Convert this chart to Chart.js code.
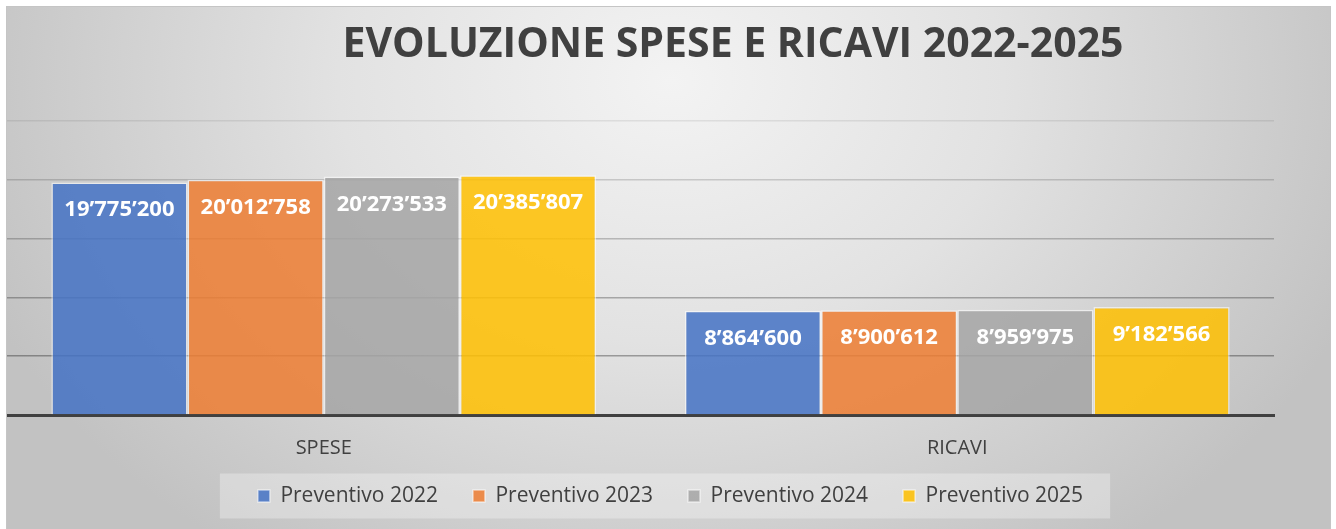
<!DOCTYPE html>
<html>
<head>
<meta charset="utf-8">
<script src="https://cdn.jsdelivr.net/npm/chart.js@4/dist/chart.umd.min.js"></script>
<style>
  html, body { margin: 0; padding: 0; background: #ffffff; overflow: hidden; }
  #box {
    position: absolute; left: 6px; top: 6px;
    width: 1323px; height: 530px;
    border: 1px solid #c5c5c5;
    background: radial-gradient(ellipse 740px 580px at 664px 74px, #f3f3f3 0%, #e2e2e2 45%, #c2c2c2 100%);
  }
  #box canvas { display: block; }
</style>
</head>
<body>
<div id="box"><canvas id="CHRT" width="1323" height="522"></canvas></div>
<script>
var titleText = "EVOLUZIONE SPESE E RICAVI 2022-2025";
var categories = ["SPESE", "RICAVI"];
var seriesNames = ["Preventivo 2022", "Preventivo 2023", "Preventivo 2024", "Preventivo 2025"];
var prev2022 = [19775200, 8864600];
var prev2023 = [20012758, 8900612];
var prev2024 = [20273533, 8959975];
var prev2025 = [20385807, 9182566];
var yTicks = [0, 5000000, 10000000, 15000000, 20000000, 25000000];

var colors = ["rgba(68,114,196,0.85)", "rgba(237,125,49,0.85)", "rgba(165,165,165,0.85)", "rgba(255,192,0,0.85)"];
var txtcol = "#404040";

function fmt(n) {
    return n.toString().replace(/\B(?=(\d{3})+(?!\d))/g, "\u2019");
}

// title sits right of centre in the original, so draw it by hand
var titlePlugin = {
    id: 'offTitle',
    afterDraw: function (chart) {
        var ctx = chart.ctx;
        ctx.save();
        ctx.font = "bold 41px 'Open Sans'";
        ctx.fillStyle = txtcol;
        ctx.textAlign = 'center';
        ctx.textBaseline = 'alphabetic';
        ctx.fillText(titleText, 726, 50);
        ctx.restore();
    }
};

// value labels inside bars
var valPlugin = {
    id: 'valLabels',
    afterDraw: function (chart) {
        var ctx = chart.ctx;
        ctx.save();
        ctx.font = "bold 22px 'Open Sans'";
        ctx.fillStyle = "#ffffff";
        ctx.textAlign = 'center';
        ctx.textBaseline = 'alphabetic';
        chart.data.datasets.forEach(function (ds, i) {
            var meta = chart.getDatasetMeta(i);
            meta.data.forEach(function (bar, j) {
                ctx.fillText(fmt(ds.data[j]), bar.x, bar.y + 34);
            });
        });
        ctx.restore();
    }
};

// nudge legend (the original is not centred on the plot) + lighter panel behind it
var legBox = {
    id: 'legBox',
    afterLayout: function (chart) {
        var lg = chart.legend;
        if (lg) {
            lg.left += 30; lg.right += 30;
            lg.top -= 3.5; lg.bottom -= 3.5;
        }
    },
    beforeDraw: function (chart) {
        var lg = chart.legend;
        if (!lg || !lg.legendHitBoxes || !lg.legendHitBoxes.length) return;
        var hb = lg.legendHitBoxes;
        var l = hb[0].left - 38;
        var r = hb[hb.length - 1].left + hb[hb.length - 1].width + 27;
        var cy = hb[0].top + hb[0].height / 2;
        var ctx = chart.ctx;
        ctx.save();
        ctx.fillStyle = "rgba(255,255,255,0.3)";
        ctx.fillRect(l, cy - 22.5, r - l, 45);
        ctx.restore();
    }
};

function gridCol(c) {
    var v = c.tick ? c.tick.value : 0;
    if (v >= 25000000) return "rgba(0,0,0,0.08)";
    if (v >= 20000000) return "rgba(0,0,0,0.16)";
    if (v >= 15000000) return "rgba(0,0,0,0.22)";
    if (v >= 10000000) return "rgba(0,0,0,0.28)";
    if (v > 0) return "rgba(0,0,0,0.32)";
    return "rgba(0,0,0,0)";
}

var sets = [prev2022, prev2023, prev2024, prev2025].map(function (d, i) {
    return {
        label: seriesNames[i],
        data: d,
        backgroundColor: colors[i],
        borderColor: "rgba(255,255,255,0.55)",
        borderWidth: 1.5,
        categoryPercentage: 0.86,
        barPercentage: 1.0
    };
});

var ctx = document.getElementById('CHRT').getContext('2d');
var myChart = new Chart(ctx, {
    type: 'bar',
    data: { labels: categories, datasets: sets },
    options: {
        responsive: false,
        animation: false,
        layout: { padding: { left: 0, right: 56, top: 114, bottom: 9 } },
        plugins: {
            title: { display: false },
            tooltip: { enabled: false },
            legend: {
                display: true,
                position: 'bottom',
                labels: {
                    boxWidth: 12,
                    boxHeight: 12,
                    padding: 35,
                    color: txtcol,
                    font: { family: "'Open Sans'", size: 21 }
                }
            }
        },
        scales: {
            x: {
                grid: { display: false },
                border: { display: true, color: "#404040", width: 3 },
                ticks: { color: txtcol, padding: 13, font: { family: "'Open Sans'", size: 20 } },
                afterFit: function (s) { s.height = 39; }
            },
            y: {
                min: yTicks[0],
                max: yTicks[yTicks.length - 1],
                ticks: { display: false, stepSize: yTicks[1] - yTicks[0] },
                grid: { color: gridCol, lineWidth: 1.5, drawTicks: false },
                border: { display: false }
            }
        }
    },
    plugins: [legBox, titlePlugin, valPlugin]
});
</script>
</body>
</html>
